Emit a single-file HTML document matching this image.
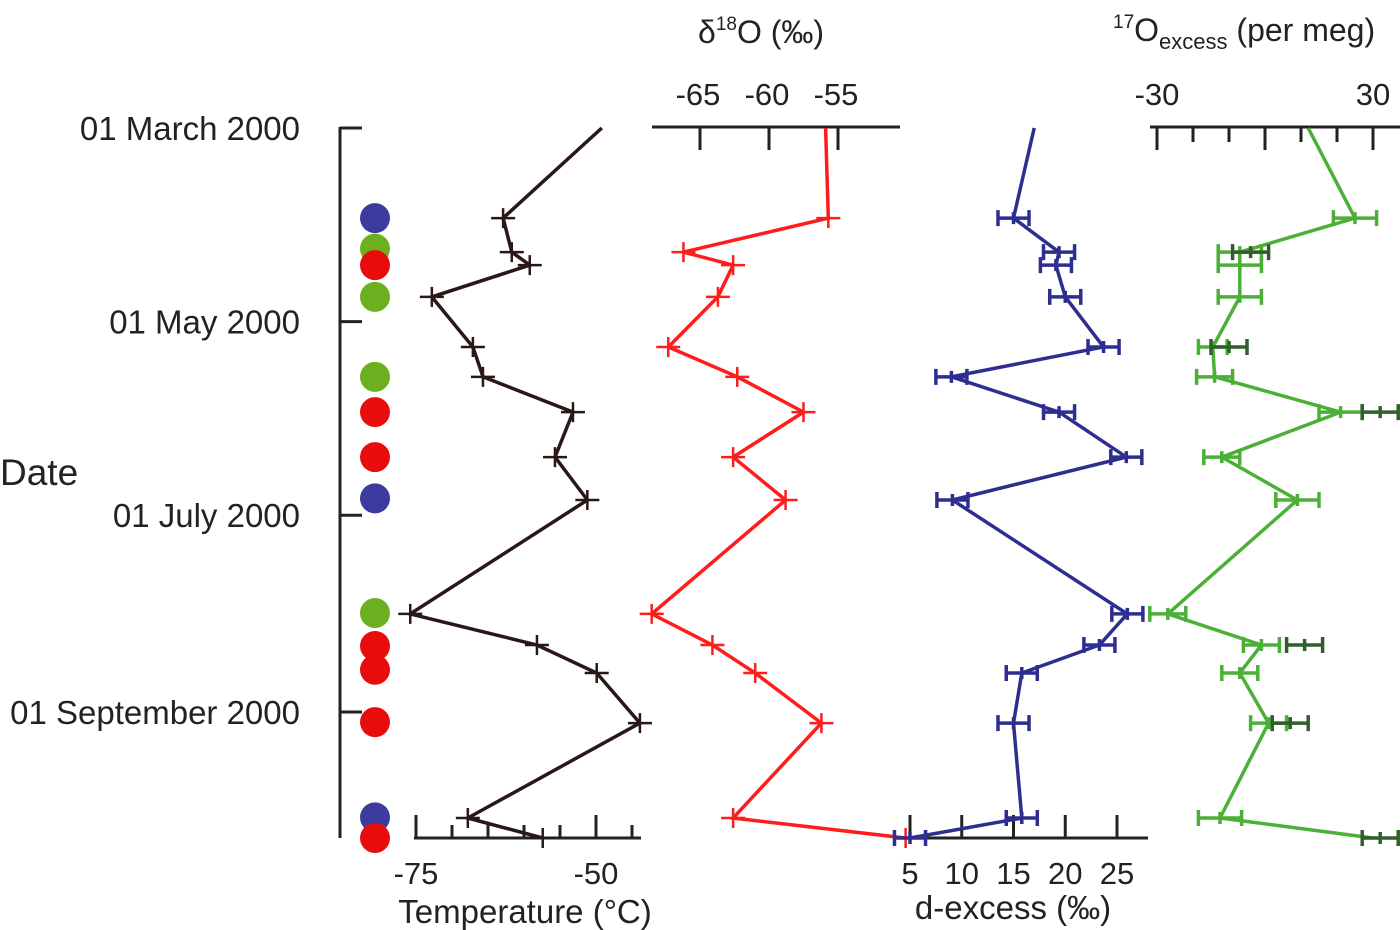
<!DOCTYPE html>
<html><head><meta charset="utf-8">
<style>
html,body{margin:0;padding:0;background:#fff;}
svg{display:block;font-family:"Liberation Sans",Arial,sans-serif;}
</style></head>
<body>
<svg id="chart" width="1400" height="930" viewBox="0 0 1400 930">
<g id="axes"></g>
<g id="marks"></g>
</svg>
<script>
// sampling dates (days after 01 March 2000)
const sampleDays = [0, 28.4, 39.1, 43.2, 53.2, 69, 78.4, 89.5, 103.7, 117.2, 153.1, 162.9, 171.7, 187.5, 217.4, 223.7];
const temperature = [-49.2, -62.9, -61.7, -59.2, -72.8, -67.1, -65.7, -53.2, -55.7, -51.2, -75.8, -58.2, -49.9, -43.9, -67.8, -57.4];
const delta18O = [-55.9, -55.7, -66.2, -62.6, -63.7, -67.3, -62.3, -57.5, -62.6, -58.8, -68.5, -64.1, -61.0, -56.2, -62.6, -50.1];
const dExcess = [17.0, 15.0, 19.4, 19.1, 20.0, 23.7, 9.0, 19.4, 25.9, 9.1, 26.0, 23.3, 15.8, 15.0, 15.8, 5.0];
const dExcessErr = [0, 1.5, 1.5, 1.5, 1.5, 1.5, 1.5, 1.5, 1.5, 1.5, 1.5, 1.5, 1.5, 1.5, 1.5, 1.5];
const o17Excess = [12, 25, -7, -7, -7, -14.5, -14, 21, -12, 9, -27, -1, -7, 1, -12.5, 30];
const o17Err = [0, 6, 6, 6, 6, 4, 5, 6, 5, 6, 5, 5, 5, 5, 6, 0];
const o17AltDays = [39.1, 69, 89.5, 162.9, 187.5, 223.7];
const o17AltValues = [-4, -10, 32, 11, 7, 32];
const dotDays = [28.4, 38, 43.2, 53.2, 78.4, 89.5, 103.7, 116.7, 152.8, 163.2, 170.7, 187.2, 217.2, 223.7];
const dotTypes = ['blue','green','red','green','green','red','red','blue','green','red','red','red','blue','red'];
const dateTickDays = [0, 61, 122, 184];
const dateTickLabels = ['01 March 2000', '01 May 2000', '01 July 2000', '01 September 2000'];
const tempTicks = [-75, -70, -65, -60, -55, -50, -45];
const tempTickLabels = [-75, -50];
const o18Ticks = [-65, -60, -55];
const dexTicks = [5, 10, 15, 20, 25];
const o17Ticks = [-30, -20, -10, 0, 10, 20, 30];
const o17TickLabels = [-30, 30];

const NS = 'http://www.w3.org/2000/svg';
const axes = document.getElementById('axes');
const marks = document.getElementById('marks');
function el(tag, attrs, parent) {
  const e = document.createElementNS(NS, tag);
  for (const k in attrs) e.setAttribute(k, attrs[k]);
  parent.appendChild(e);
  return e;
}
const yDate = d => 128 + d * (712 - 128) / 184;
const xTemp = v => 416 + (v + 75) * 7.2;
const xO18 = v => 769 + (v + 60) * 13.8;
const xDex = v => 910 + (v - 5) * 10.35;
const xO17 = v => 1157 + (v + 30) * 3.6;

// date axis
let g = el('g', {}, axes);


el('line', {x1: 340, y1: 127, x2: 340, y2: 838, stroke: '#222', 'stroke-width': 3}, g);
dateTickDays.forEach((d, i) => {
  el('line', {x1: 340, y1: yDate(d), x2: 362, y2: yDate(d), stroke: '#222', 'stroke-width': 3}, g);
  const t = el('text', {x: 300, y: yDate(d) + 12, 'text-anchor': 'end', 'font-size': 33, fill: '#222'}, g);
  t.textContent = dateTickLabels[i];
  
  
});
let t = el('text', {x: 0, y: 485, 'font-size': 37, fill: '#222'}, g);
t.textContent = 'Date';



// temperature axis (bottom)
g = el('g', {}, axes);


el('line', {x1: 414, y1: 838, x2: 641, y2: 838, stroke: '#222', 'stroke-width': 3}, g);
tempTicks.forEach(v => {
  const big = v % 25 === 0;
  el('line', {x1: xTemp(v), y1: 838, x2: xTemp(v), y2: big ? 815 : 825, stroke: '#222', 'stroke-width': 3}, g);
});
tempTickLabels.forEach(v => {
  const tt = el('text', {x: xTemp(v), y: 884, 'text-anchor': 'middle', 'font-size': 31, fill: '#222'}, g);
  tt.textContent = v;
  
  
});
t = el('text', {x: 525, y: 923, 'text-anchor': 'middle', 'font-size': 33, fill: '#222'}, g);
t.textContent = 'Temperature (°C)';



// d18O axis (top)
g = el('g', {}, axes);


el('line', {x1: 652, y1: 127, x2: 900, y2: 127, stroke: '#222', 'stroke-width': 3}, g);
o18Ticks.forEach(v => {
  el('line', {x1: xO18(v), y1: 127, x2: xO18(v), y2: 150, stroke: '#222', 'stroke-width': 3}, g);
  const tt = el('text', {x: xO18(v) - 2, y: 105, 'text-anchor': 'middle', 'font-size': 31, fill: '#222'}, g);
  tt.textContent = v;
  
  
});
t = el('text', {x: 698, y: 43, 'font-size': 32, fill: '#222'}, g);
t.innerHTML = 'δ<tspan dy="-13" font-size="19">18</tspan><tspan dy="13">O (‰)</tspan>';



// d-excess axis (bottom)
g = el('g', {}, axes);


el('line', {x1: 900, y1: 838, x2: 1148, y2: 838, stroke: '#222', 'stroke-width': 3}, g);
dexTicks.forEach(v => {
  el('line', {x1: xDex(v), y1: 838, x2: xDex(v), y2: 815, stroke: '#222', 'stroke-width': 3}, g);
  const tt = el('text', {x: xDex(v), y: 884, 'text-anchor': 'middle', 'font-size': 31, fill: '#222'}, g);
  tt.textContent = v;
  
  
});
t = el('text', {x: 1013, y: 919, 'text-anchor': 'middle', 'font-size': 33, fill: '#222'}, g);
t.textContent = 'd-excess (‰)';



// 17O excess axis (top)
g = el('g', {}, axes);


el('line', {x1: 1150, y1: 127, x2: 1400, y2: 127, stroke: '#222', 'stroke-width': 3}, g);
o17Ticks.forEach(v => {
  const big = v % 30 === 0;
  el('line', {x1: xO17(v), y1: 127, x2: xO17(v), y2: big ? 150 : 142, stroke: '#222', 'stroke-width': 3}, g);
});
o17TickLabels.forEach(v => {
  const tt = el('text', {x: xO17(v), y: 105, 'text-anchor': 'middle', 'font-size': 31, fill: '#222'}, g);
  tt.textContent = v;
  
  
});
t = el('text', {x: 1113, y: 41, 'font-size': 32, fill: '#222'}, g);
t.innerHTML = '<tspan dy="-13" font-size="19">17</tspan><tspan dy="13">O</tspan><tspan dy="8" font-size="22">excess</tspan><tspan dy="-8"> (per meg)</tspan>';



// colored sample-type dots
const dotColors = {blue: '#3c3ca0', green: '#6cb020', red: '#e80c0c'};
g = el('g', {}, marks);


dotDays.forEach((d, i) => {
  const c = el('circle', {cx: 375, cy: yDate(d), r: 15, fill: dotColors[dotTypes[i]]}, g);
  
  
});

function series(name, values, xf, color, width, errs, errHalf) {
  const sg = el('g', {}, marks);
  
  
  const pts = values.map((v, i) => xf(v).toFixed(1) + ',' + yDate(sampleDays[i]).toFixed(1)).join(' ');
  const pl = el('polyline', {points: pts, fill: 'none', stroke: color, 'stroke-width': width, 'stroke-linejoin': 'miter'}, sg);
  
  
  values.forEach((v, i) => {
    if (i === 0) return;
    const x = xf(v), y = yDate(sampleDays[i]);
    if (errs) {
      const e = errs[i];
      if (!e) return;
      const x1 = xf(v - e), x2 = xf(v + e);
      const b = el('path', {d: `M${x1},${y}H${x2}M${x1},${y-8}V${y+8}M${x2},${y-8}V${y+8}M${x},${y-6}V${y+6}`, stroke: color, 'stroke-width': 3.5, fill: 'none'}, sg);
      
      
    } else {
      const b = el('path', {d: `M${x-errHalf},${y}H${x+errHalf}M${x},${y-10}V${y+10}`, stroke: color, 'stroke-width': 2.5, fill: 'none'}, sg);
      
      
    }
  });
}
series('temperature-series', temperature, xTemp, '#2a1818', 3.5, null, 12);
series('delta18o-series', delta18O, xO18, '#ff1c1c', 3.5, null, 12);
series('d-excess-series', dExcess, xDex, '#2e2e90', 3.5, dExcessErr);
series('o17-excess-series', o17Excess, xO17, '#4cb038', 3.5, o17Err);

// secondary 17O excess measurements
g = el('g', {}, marks);


o17AltDays.forEach((d, i) => {
  const v = o17AltValues[i], x = xO17(v), y = yDate(d);
  const x1 = xO17(v - 5), x2 = xO17(v + 5);
  const b = el('path', {d: `M${x1},${y}H${x2}M${x1},${y-8}V${y+8}M${x2},${y-8}V${y+8}M${x},${y-6}V${y+6}`, stroke: '#2f5f2a', 'stroke-width': 3.5, fill: 'none'}, g);
  
  
});
</script>
</body></html>
